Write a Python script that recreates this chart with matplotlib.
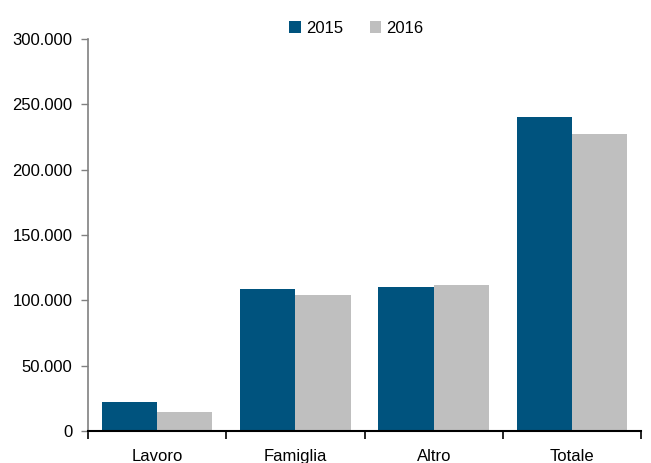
import matplotlib.pyplot as plt
from matplotlib.ticker import FuncFormatter
import numpy as np

plt.rcParams['font.family'] = ['Liberation Sans', 'DejaVu Sans']

categories = ["Lavoro", "Famiglia", "Altro", "Totale"]
val_2015 = [22200, 108400, 110200, 240000]
val_2016 = [14300, 103900, 111700, 227000]
series_labels = ["2015", "2016"]
color_map = ["#00537E", "#BFBFBF"]

fig = plt.figure(figsize=(6.51, 4.63), dpi=100)
ax = fig.add_axes([0.135, 0.069, 0.850, 0.847])

x = np.arange(len(categories))
w = 0.4
ax.bar(x - w / 2, val_2015, width=w, color=color_map[0], label=series_labels[0])
ax.bar(x + w / 2, val_2016, width=w, color=color_map[1], label=series_labels[1])

ax.set_xlim(-0.5, len(categories) - 0.5)
ax.set_ylim(0, 300000)
ax.set_yticks(np.arange(0, 300001, 50000))
ax.yaxis.set_major_formatter(FuncFormatter(lambda v, p: f"{int(v):,}".replace(",", ".")))

# category labels centred, ticks at group boundaries
ax.set_xticks(np.arange(len(categories) + 1) - 0.5)
ax.set_xticklabels([])
ax.set_xticks(x, minor=True)
ax.set_xticklabels(categories, minor=True, fontsize=12)
ax.tick_params(axis='x', which='minor', length=0, pad=13)
ax.tick_params(axis='x', which='major', length=6, width=1.2, color='black', direction='out')
ax.tick_params(axis='y', length=5, width=1, color='#808080', labelsize=12, pad=6)

for s in ['top', 'right']:
    ax.spines[s].set_visible(False)
ax.spines['left'].set_color('#808080')
ax.spines['left'].set_linewidth(1.2)
ax.spines['bottom'].set_color('black')
ax.spines['bottom'].set_linewidth(1.5)

ax.legend(loc='upper center', bbox_to_anchor=(0.485, 1.085), ncol=2, frameon=False,
          fontsize=12, handlelength=0.7, handleheight=0.7, handletextpad=0.3,
          columnspacing=1.6)

fig.savefig('out.png', dpi=100)
